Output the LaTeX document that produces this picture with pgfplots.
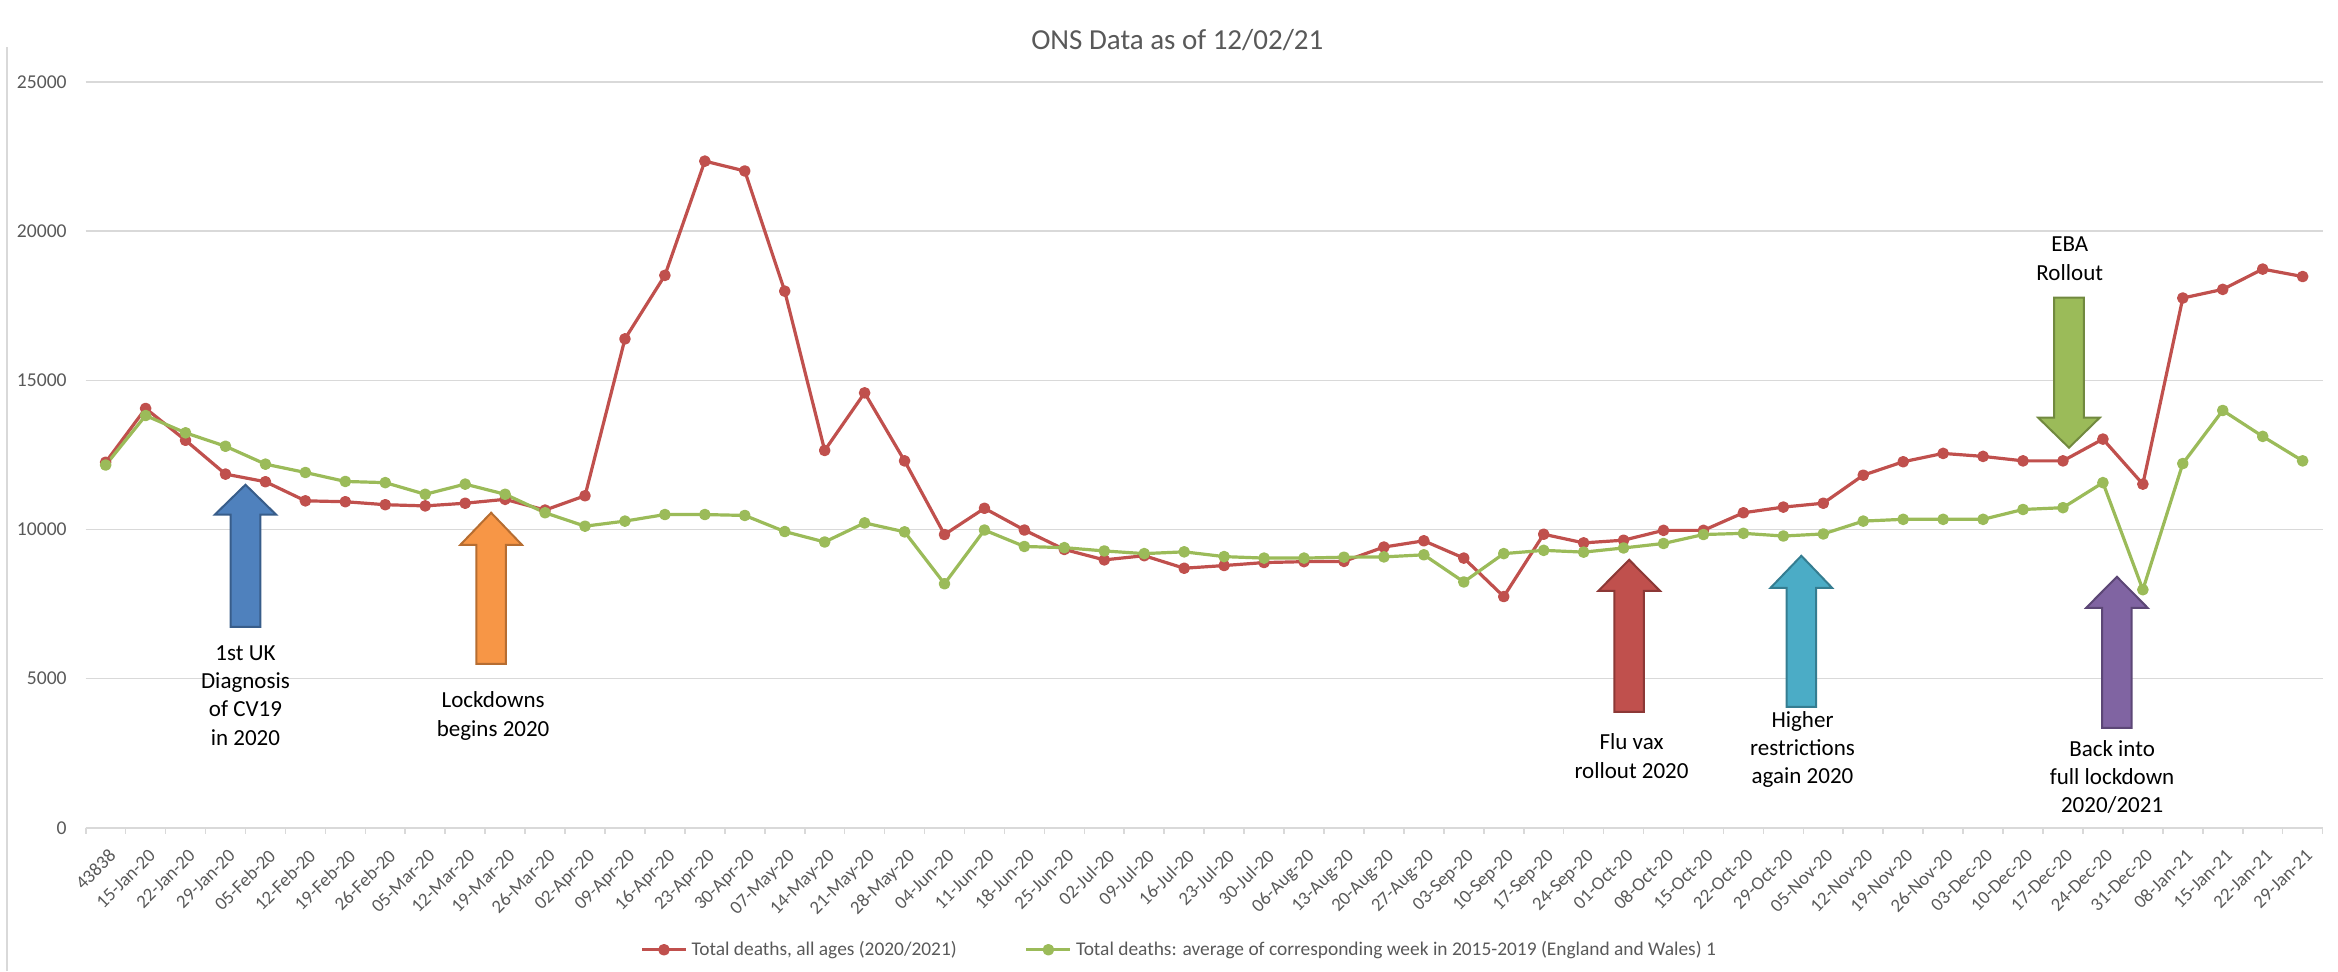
\documentclass[border=0pt]{standalone}
\usepackage{pgfplots}
\pgfplotsset{compat=1.18}
\usepackage{pgfplotstable}
\usepackage{fontspec}
\setmainfont{Carlito}

\definecolor{deathred}{HTML}{C0504D}
\definecolor{avggreen}{HTML}{9BBB59}
\definecolor{labelgrey}{HTML}{595959}
\definecolor{gridgrey}{HTML}{D9D9D9}
\definecolor{arrblue}{HTML}{4F81BD}
\definecolor{arrblueD}{HTML}{385D8A}
\definecolor{arrorange}{HTML}{F79646}
\definecolor{arrorangeD}{HTML}{B66D31}
\definecolor{arrred}{HTML}{C0504D}
\definecolor{arrredD}{HTML}{8C3836}
\definecolor{arrteal}{HTML}{4BACC6}
\definecolor{arrtealD}{HTML}{357D91}
\definecolor{arrpurple}{HTML}{8064A2}
\definecolor{arrpurpleD}{HTML}{5C4776}
\definecolor{arrgreen}{HTML}{9BBB59}
\definecolor{arrgreenD}{HTML}{71893F}

% weekly deaths, England and Wales
\pgfplotstableread{
idx total avg
0 12254 12160
1 14058 13820
2 12990 13240
3 11856 12790
4 11600 12190
5 10960 11910
6 10930 11610
7 10830 11570
8 10790 11180
9 10880 11520
10 11010 11180
11 10650 10560
12 11130 10110
13 16390 10280
14 18520 10500
15 22350 10500
16 22020 10470
17 17990 9930
18 12650 9580
19 14580 10220
20 12300 9920
21 9830 8180
22 10710 9980
23 9980 9430
24 9330 9390
25 8980 9280
26 9120 9190
27 8700 9250
28 8790 9090
29 8890 9040
30 8920 9040
31 8930 9070
32 9410 9080
33 9620 9150
34 9040 8240
35 7750 9190
36 9840 9300
37 9550 9240
38 9640 9380
39 9970 9530
40 9970 9830
41 10560 9870
42 10750 9780
43 10880 9850
44 11820 10280
45 12270 10340
46 12550 10340
47 12450 10340
48 12300 10670
49 12300 10730
50 13030 11570
51 11520 7980
52 17760 12210
53 18050 13990
54 18730 13120
55 18480 12300
}\weekly

% block arrow: x, tip, head base, tail, fill, border
\newcommand{\blockarrow}[6]{%
  \draw[fill=#5, draw=#6, line width=1pt, line join=miter]
    (axis cs:#1,#2) -- (axis cs:{#1+0.77},#3) -- (axis cs:{#1+0.37},#3)
    -- (axis cs:{#1+0.37},#4) -- (axis cs:{#1-0.37},#4)
    -- (axis cs:{#1-0.37},#3) -- (axis cs:{#1-0.77},#3) -- cycle;}

\begin{document}
\begin{tikzpicture}[annot/.style={align=center, font=\fontsize{11.5}{14.2}\selectfont, text=black, inner sep=0pt}]
\useasboundingbox (0,0) rectangle (1169pt,485.5pt);
\draw[gridgrey, line width=0.8pt] (3.5pt,0) -- (3.5pt,462pt);
\begin{axis}[
  at={(42.85pt,71.65pt)}, anchor=south west,
  scale only axis, width=1118.5pt, height=372.8pt,
  clip=false,
  xmin=-0.5, xmax=55.5, ymin=0, ymax=25000,
  axis x line*=bottom, axis y line*=left,
  x axis line style={draw=gridgrey, line width=0.8pt, -},
  y axis line style={draw=none},
  ytick={0,5000,...,25000},
  ymajorgrids,
  major grid style={draw=gridgrey, line width=0.8pt},
  xtick={0,...,55},
  xticklabels={43838,15-Jan-20,22-Jan-20,29-Jan-20,05-Feb-20,12-Feb-20,19-Feb-20,26-Feb-20,05-Mar-20,12-Mar-20,19-Mar-20,26-Mar-20,02-Apr-20,09-Apr-20,16-Apr-20,23-Apr-20,30-Apr-20,07-May-20,14-May-20,21-May-20,28-May-20,04-Jun-20,11-Jun-20,18-Jun-20,25-Jun-20,02-Jul-20,09-Jul-20,16-Jul-20,23-Jul-20,30-Jul-20,06-Aug-20,13-Aug-20,20-Aug-20,27-Aug-20,03-Sep-20,10-Sep-20,17-Sep-20,24-Sep-20,01-Oct-20,08-Oct-20,15-Oct-20,22-Oct-20,29-Oct-20,05-Nov-20,12-Nov-20,19-Nov-20,26-Nov-20,03-Dec-20,10-Dec-20,17-Dec-20,24-Dec-20,31-Dec-20,08-Jan-21,15-Jan-21,22-Jan-21,29-Jan-21},
  minor xtick={-0.5,0.5,...,55.5},
  major tick length=0pt, minor tick length=3pt,
  tick align=outside,
  minor tick style={draw=gridgrey, line width=0.8pt},
  ytick style={draw=none},
  /pgf/number format/assume math mode=true,
  /pgf/number format/1000 sep={},
  scaled y ticks=false,
  yticklabel style={font=\fontsize{9.8}{11}\selectfont, text=labelgrey, xshift=-6pt},
  xticklabel style={font=\fontsize{9.4}{11}\selectfont, text=labelgrey, yshift=-8.5pt, xshift=1pt, rotate=45, anchor=north east, inner sep=1pt},
  legend style={at={(axis description cs:0.2478,-0.1637)}, anchor=west, draw=none, fill=none, inner sep=0pt,
    legend columns=2, font=\fontsize{9.7}{11}\selectfont, text=labelgrey,
    /tikz/every even column/.append style={column sep=32pt}},
  legend image code/.code={\draw[mark repeat=2, mark phase=2, #1] plot coordinates {(0pt,0pt) (11pt,0pt) (22pt,0pt)};},
]
\addplot[deathred, line width=1.6pt, line join=round, mark=*, mark size=2.1pt, mark options={solid, fill=deathred}]
  table[x=idx, y=total] {\weekly};
\addlegendentry{Total deaths, all ages (2020/2021)}
\addplot[avggreen, line width=1.6pt, line join=round, mark=*, mark size=2.1pt, mark options={solid, fill=avggreen}]
  table[x=idx, y=avg] {\weekly};
\addlegendentry{Total deaths: average of corresponding week in 2015-2019 (England and Wales) 1}

\node[font=\fontsize{14.5}{16}\selectfont, text=labelgrey] at (axis description cs:0.488,1.057) {ONS Data as of 12/02/21};

\blockarrow{3.5}{11500}{10494}{6735}{arrblue}{arrblueD}
\blockarrow{9.65}{10560}{9486}{5493}{arrorange}{arrorangeD}
\blockarrow{38.14}{8983}{7943}{3883}{arrred}{arrredD}
\blockarrow{42.45}{9117}{8043}{4050}{arrteal}{arrtealD}
\blockarrow{50.35}{8413}{7372}{3346}{arrpurple}{arrpurpleD}
\blockarrow{49.15}{12742}{13748}{17775}{arrgreen}{arrgreenD}

\node[annot] at (axis cs:3.5,4436) {1st UK\\Diagnosis\\of CV19\\in 2020};
\node[annot] at (axis cs:9.7,3748) {Lockdowns\\begins 2020};
\node[annot] at (axis cs:38.2,2406) {Flu vax\\rollout 2020};
\node[annot] at (axis cs:42.48,2620) {Higher\\restrictions\\again 2020};
\node[annot] at (axis cs:50.23,1701) {Back into\\full lockdown\\2020/2021};
\node[annot] at (axis cs:49.17,19084) {EBA\\Rollout};
\end{axis}
\end{tikzpicture}
\end{document}
